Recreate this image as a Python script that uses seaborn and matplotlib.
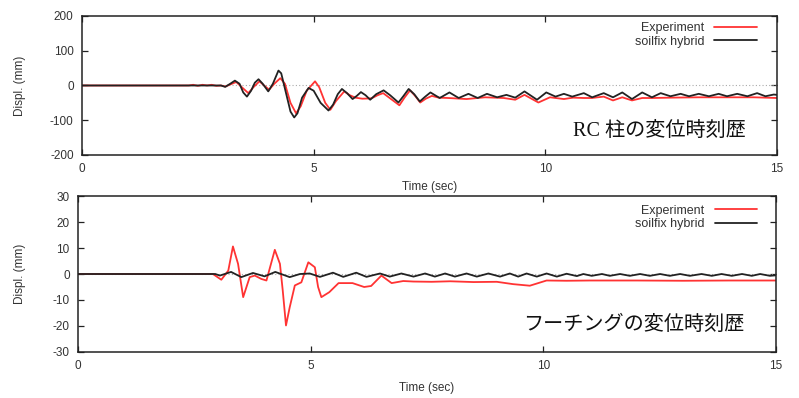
import numpy as np
import pandas as pd
import matplotlib
matplotlib.use('Agg')
import matplotlib.pyplot as plt
import seaborn as sns

# --- Dados (tempo em s, deslocamento em mm)

# RC 柱 (parte de cima)
t_exp_rc = [0, 2.3, 2.4, 2.5, 2.6, 2.7, 2.8, 2.9, 3.0, 3.1, 3.2, 3.33, 3.45, 3.59, 3.70,
            3.83, 3.93, 4.04, 4.15, 4.28, 4.38, 4.50, 4.62, 4.72, 4.85, 5.03, 5.12, 5.25,
            5.36, 5.48, 5.66, 5.78, 5.9, 6.05, 6.25, 6.38, 6.5, 6.68, 6.85, 6.96, 7.08,
            7.19, 7.30, 7.42, 7.55, 7.7, 7.9, 8.3, 8.7, 9.1, 9.35, 9.55, 9.85, 10.1,
            10.4, 10.6, 10.83, 11.0, 11.26, 11.46, 11.66, 11.87, 12.09, 12.3, 12.7,
            13.3, 13.9, 14.5, 15.0]
d_exp_rc = [0, 0, 2, -1, 2, 0, 2, -1, 0, -3, 3, 10, -5, -22, -5,
            12, 0, -12, 5, 21, 5, -50, -80, -60, -15, 12, -5, -50,
            -70, -45, -17, -28, -35, -38, -37, -28, -22, -40, -57, -35, -14,
            -30, -49, -38, -30, -35, -36, -39, -34, -36, -41, -27, -49, -34,
            -39, -35, -36, -36, -32, -43, -34, -43, -36, -36, -35,
            -34, -34, -34, -36]

t_hyb_rc = [0, 3.0, 3.09, 3.2, 3.30, 3.40, 3.48, 3.56, 3.65, 3.73, 3.81, 3.90, 4.02,
            4.12, 4.24, 4.30, 4.40, 4.50, 4.58, 4.65, 4.75, 4.89, 5.0, 5.15, 5.32, 5.42,
            5.52, 5.61, 5.72, 5.84, 5.93, 6.02, 6.12, 6.22, 6.35, 6.51, 6.65, 6.83,
            6.94, 7.05, 7.17, 7.29, 7.40, 7.52, 7.72, 7.93, 8.13, 8.34, 8.54,
            8.74, 8.96, 9.16, 9.35, 9.55, 9.82, 10.02, 10.22, 10.40, 10.58, 10.83,
            11.01, 11.26, 11.46, 11.66, 11.87, 12.09, 12.30, 12.49, 12.70, 12.92,
            13.10, 13.31, 13.53, 13.74, 13.92, 14.14, 14.36, 14.57, 14.75, 14.93, 15.0]
d_hyb_rc = [0, 0, -4, 5, 14, 5, -20, -32, -15, 8, 18, 5, -17,
            5, 43, 35, -20, -75, -92, -80, -35, -7, -15, -50, -72, -55,
            -25, -10, -22, -39, -30, -19, -28, -41, -25, -14, -28, -49,
            -30, -10, -25, -46, -33, -20, -36, -20, -36, -24, -36,
            -24, -34, -27, -35, -17, -41, -20, -32, -24, -32, -22,
            -34, -22, -34, -20, -39, -20, -34, -22, -31, -24,
            -31, -24, -31, -24, -31, -24, -31, -22, -31, -26, -27]

# フーチング (parte de baixo)
t_exp_ft = [0, 2.9, 3.08, 3.23, 3.33, 3.44, 3.55, 3.69, 3.80, 3.94, 4.05, 4.23, 4.34,
            4.40, 4.47, 4.55, 4.66, 4.80, 4.95, 5.09, 5.16, 5.23, 5.4, 5.6, 5.9, 6.15,
            6.3, 6.52, 6.74, 6.99, 7.21, 7.6, 8.0, 8.5, 9.0, 9.35, 9.71, 10.07, 10.5,
            11.0, 12.0, 13.0, 14.0, 15.0]
d_exp_ft = [0, 0, -2.2, 1.3, 10.6, 3.9, -8.9, -1.2, -0.6, -1.9, -2.5, 9.3, 3.9,
            -6.3, -19.8, -12.8, -4.4, -3.2, 4.5, 2.6, -5.0, -8.9, -7.0, -3.5, -3.5, -5.0,
            -4.6, -0.6, -3.5, -2.7, -2.9, -3.0, -2.8, -3.1, -3.0, -3.9, -4.5, -2.5, -2.6,
            -2.5, -2.5, -2.6, -2.5, -2.5]

t_hyb_ft = [0, 2.95, 3.05, 3.29, 3.51, 3.76, 4.01, 4.24, 4.55, 4.77, 4.98, 5.2, 5.48,
            5.70, 5.98, 6.2, 6.49, 6.70, 6.95, 7.21, 7.46, 7.67, 7.89, 8.10, 8.35, 8.57,
            8.82, 9.07, 9.28, 9.46, 9.64, 9.86, 10.07, 10.29, 10.50, 10.72, 10.86, 11.04,
            11.26, 11.43, 11.65, 11.86, 12.08, 12.29, 12.51, 12.72, 12.94, 13.15, 13.40,
            13.62, 13.83, 14.05, 14.27, 14.48, 14.66, 14.87, 15.0]
d_hyb_ft = [0, 0, -0.6, 0.8, -1.2, 0.4, -0.9, 0.8, -1.2, 0.0, 0.2, -1.1, 0.5,
            -1.1, 0.5, -1.1, 0.2, -1.0, 0.2, -1.0, 0.2, -1.0, 0.2, -1.0, 0.2, -1.0,
            0.2, -1.0, 0.2, -1.0, 0.2, -1.0, 0.2, -1.0, 0.1, -0.8, 0.0, -0.7,
            0.0, -0.7, 0.0, -0.7, 0.0, -0.7, 0.0, -0.7, 0.0, -0.7, 0.0,
            -0.7, 0.0, -0.7, 0.0, -0.7, 0.0, -0.7, -0.5]

x_ticks = [0, 5, 10, 15]
y_ticks_rc = [-200, -100, 0, 100, 200]
y_ticks_ft = [-30, -20, -10, 0, 10, 20, 30]

label_exp = 'Experiment'
label_hyb = 'soilfix hybrid'
titulo_rc = 'RC 柱の変位時刻歴'
titulo_ft = 'フーチングの変位時刻歴'

# ===============================
# ESTILO
# ===============================
sns.set_style('ticks')
plt.rcParams['font.family'] = ['Liberation Sans', 'DejaVu Sans']
plt.rcParams['axes.edgecolor'] = '#222222'
plt.rcParams['axes.linewidth'] = 1.1
plt.rcParams['axes.unicode_minus'] = False

cor_exp = '#ff3333'
cor_hyb = '#222222'
cor_txt = '#333333'

fig = plt.figure(figsize=(7.99, 3.98), dpi=100)
ax1 = fig.add_axes([0.1026, 0.6106, 0.8699, 0.3492])
ax2 = fig.add_axes([0.0976, 0.1156, 0.8736, 0.3919])

paineis = [
    (ax1, t_exp_rc, d_exp_rc, t_hyb_rc, d_hyb_rc, y_ticks_rc, titulo_rc, -0.080, 0.957, 0.971),
    (ax2, t_exp_ft, d_exp_ft, t_hyb_ft, d_hyb_ft, y_ticks_ft, titulo_ft, -0.075, 0.945, 0.973),
]

for ax, te, de, th, dh, yt, titulo, ylx, leg_y, leg_x in paineis:
    ax.axhline(0, color='#aaaaaa', lw=0.8, ls=(0, (1, 2)), zorder=1)
    sns.lineplot(x=te, y=de, ax=ax, color=cor_exp, lw=1.3, label=label_exp, zorder=2)
    sns.lineplot(x=th, y=dh, ax=ax, color=cor_hyb, lw=1.3, label=label_hyb, zorder=3)

    ax.set_xlim(0, 15)
    ax.set_ylim(yt[0], yt[-1])
    ax.set_xticks(x_ticks)
    ax.set_yticks(yt)
    ax.tick_params(direction='in', length=4.5, width=0.9, top=True, right=True,
                   labelsize=8.5, labelcolor=cor_txt, color='#222222')
    ax.tick_params(axis='x', pad=6)
    ax.tick_params(axis='y', pad=6)

    ax.set_xlabel('Time (sec)', fontsize=8.5, color=cor_txt)
    ax.set_ylabel('Displ. (mm)', fontsize=8.5, color=cor_txt)
    ax.xaxis.set_label_coords(0.5, -0.19)
    ax.yaxis.set_label_coords(ylx, 0.5)

    leg = ax.legend(loc='upper right', bbox_to_anchor=(leg_x, leg_y), frameon=False,
                    markerfirst=False, fontsize=9, handlelength=3.4, handletextpad=0.8,
                    labelspacing=0.15, borderpad=0, borderaxespad=0)
    for txt in leg.get_texts():
        txt.set_color(cor_txt)

    ax.text(0.955, 0.17, titulo, transform=ax.transAxes, ha='right', va='center',
            fontsize=14.5, color='#111111',
            family=['Liberation Serif', 'Noto Sans CJK JP'])

fig.savefig('out.png', dpi=100)
